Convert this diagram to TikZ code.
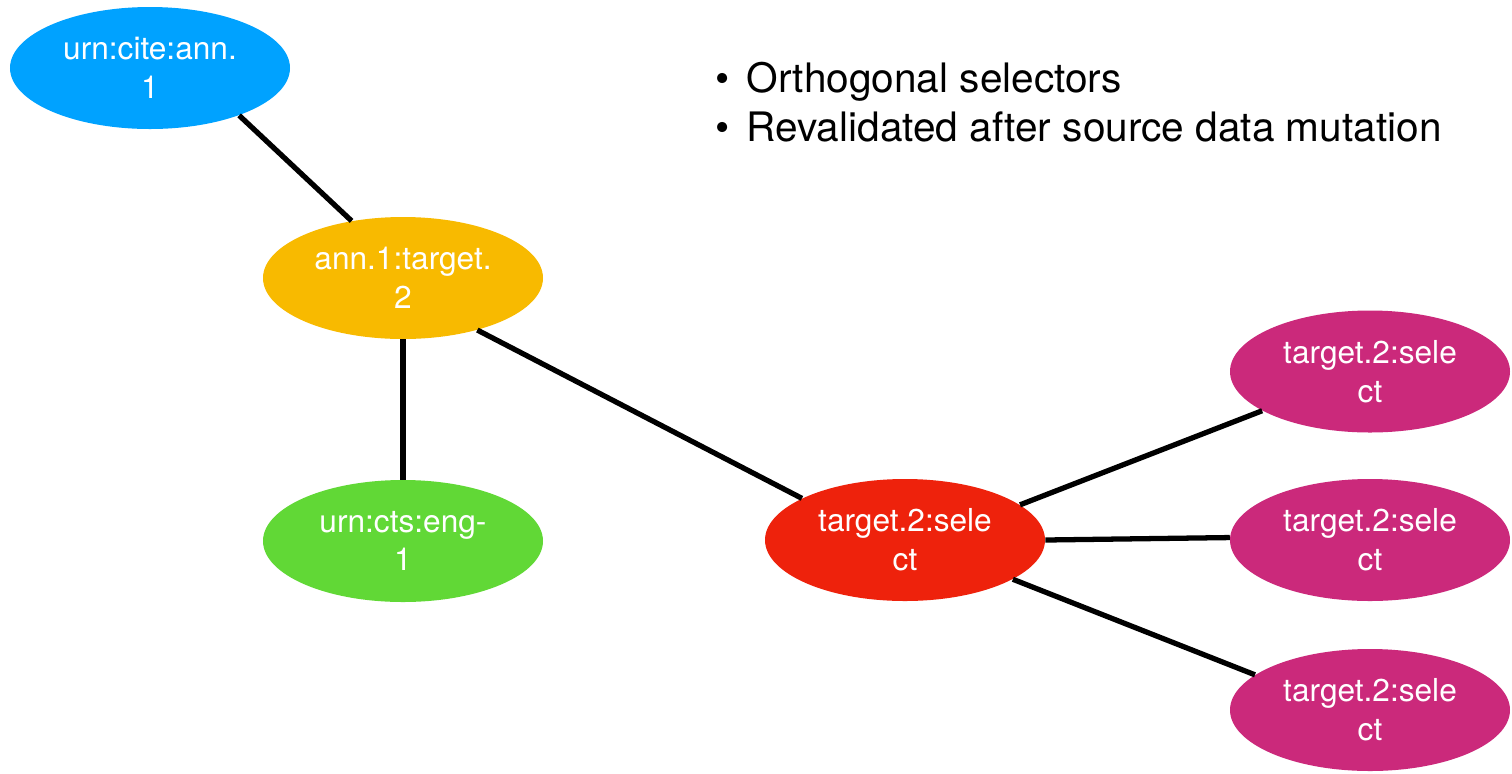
\documentclass[tikz,border=0pt]{standalone}
\usepackage{fontspec}
\setmainfont{TeX Gyre Heros}
\usetikzlibrary{shapes,positioning}
\definecolor{annblue}{HTML}{00A2FF}
\definecolor{tgtyellow}{HTML}{F8BA00}
\definecolor{engreen}{HTML}{61D836}
\definecolor{selred}{HTML}{EE220C}
\definecolor{selpink}{HTML}{CB297B}

\begin{document}
\begin{tikzpicture}[
    blob/.style={ellipse, minimum width=5.6cm, minimum height=2.44cm, inner sep=0pt,
      text=white, align=center, font=\fontsize{18}{22}\selectfont},
    link/.style={line width=3pt},
    item/.style={anchor=base west, inner sep=0pt, font=\fontsize{23.1}{27.8}\selectfont}]
         \useasboundingbox (0,0) rectangle (30.24,-15.46);
         \node [blob, fill=annblue] (ANN) at (3.0, -1.36) {urn:cite:ann.\\1};
         \node [blob, fill=tgtyellow] (TGT) at (8.06, -5.56) {ann.1:target.\\2};
         \node [blob, fill=engreen] (ENG) at (8.06, -10.82) {urn:cts:eng-\\1};
         \node [blob, fill=selred] (SEL) at (18.1, -10.8) {target.2:sele\\ct};
         \node [blob, fill=selpink] (SA) at (27.4, -7.43) {target.2:sele\\ct};
         \node [blob, fill=selpink] (SB) at (27.4, -10.8) {target.2:sele\\ct};
         \node [blob, fill=selpink] (SC) at (27.4, -14.2) {target.2:sele\\ct};
         \draw [link] (ANN.-28.5) -- (TGT.132.6);
         \draw [link] (TGT) -- (ENG);
         \draw [link] (TGT.-35.5) -- (SEL.158.3);
         \draw [link] (SEL.17.2) -- (SA.-160.1);
         \draw [link] (SEL.-0.7) -- (SB.179.2);
         \draw [link] (SEL.-20.6) -- (SC.163.3);
         % bullet list
         \node [item] (I1) at (14.3, -1.84) {\textbullet\hspace{0.42em}Orthogonal selectors};
         \node [item] (I2) at (14.3, -2.82) {\textbullet\hspace{0.42em}Revalidated after source data mutation};
\end{tikzpicture}
\end{document}
